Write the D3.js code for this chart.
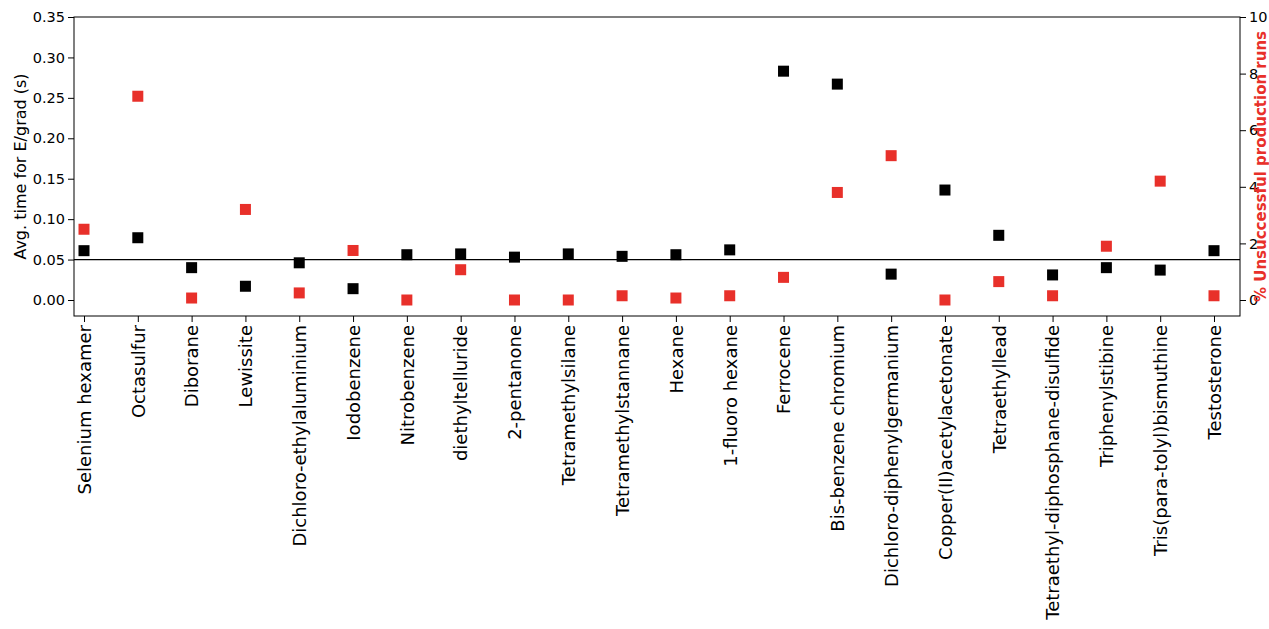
<!DOCTYPE html>
<html><head><meta charset="utf-8">
<script src="https://cdn.jsdelivr.net/npm/d3@7"></script>
<style>
body{margin:0;background:#fff}
svg{display:block}
svg text{font-family:"DejaVu Sans",sans-serif}
.tick text{font-size:14.5px;fill:#000}
</style></head><body>
<svg id="c" width="1269" height="629"></svg>
<script>
const molecules = ['Selenium hexamer','Octasulfur','Diborane','Lewissite','Dichloro-ethylaluminium','Iodobenzene','Nitrobenzene','diethyltelluride','2-pentanone','Tetramethylsilane','Tetramethylstannane','Hexane','1-fluoro hexane','Ferrocene','Bis-benzene chromium','Dichloro-diphenylgermanium','Copper(II)acetylacetonate','Tetraethyllead','Tetraethyl-diphosphane-disulfide','Triphenylstibine','Tris(para-tolyl)bismuthine','Testosterone']
const avgTime = [0.061,0.077,0.040,0.017,0.046,0.014,0.056,0.057,0.053,0.057,0.054,0.056,0.062,0.283,0.267,0.032,0.136,0.080,0.031,0.040,0.037,0.061]
const failPct = [2.5,7.2,0.07,3.2,0.25,1.75,0,1.07,0,0,0.15,0.07,0.15,0.8,3.8,5.1,0,0.65,0.15,1.9,4.2,0.15]
const leftTicks = [0,0.05,0.1,0.15,0.2,0.25,0.3,0.35]
const rightTicks = [0,2,4,6,8,10]
const threshold = 0.05

const m = {l:74, r:1240, t:17, b:316}
const svg = d3.select('#c')
const x = d3.scalePoint().domain(molecules).range([m.l+10, m.r-26])
const y = d3.scaleLinear().domain([0,0.35]).range([300, m.t])
const y2 = d3.scaleLinear().domain([0,10]).range([300, m.t])
const red = '#e8302a'

svg.append('g').attr('transform',`translate(${m.l},0)`)
  .call(d3.axisLeft(y).tickValues(leftTicks).tickFormat(d3.format('.2f')).tickSizeOuter(0))
svg.append('g').attr('transform',`translate(${m.r},0)`)
  .call(d3.axisRight(y2).tickValues(rightTicks).tickSizeOuter(0))
  .call(g => g.selectAll('text').attr('fill', red))
svg.append('g').attr('transform',`translate(0,${m.b})`)
  .call(d3.axisBottom(x).tickSizeOuter(0))
  .selectAll('text').style('font-size','18px')
  .attr('transform','rotate(-90)').attr('text-anchor','end')
  .attr('x',-9).attr('y',0).attr('dy','0.35em')
svg.selectAll('g').attr('font-family',null)
svg.append('rect').attr('x',m.l).attr('y',m.t).attr('width',m.r-m.l).attr('height',m.b-m.t)
  .attr('fill','none').attr('stroke','#000')
svg.selectAll('.domain').remove()

svg.append('line').attr('x1',m.l).attr('x2',m.r).attr('y1',y(threshold)).attr('y2',y(threshold))
  .attr('stroke','#000').attr('stroke-width',1.3)

const s = 11
svg.append('g').selectAll('rect').data(molecules).join('rect')
  .attr('x',d=>x(d)-s/2).attr('y',(d,i)=>y(avgTime[i])-s/2).attr('width',s).attr('height',s).attr('fill','#000')
svg.append('g').selectAll('rect').data(molecules).join('rect')
  .attr('x',d=>x(d)-s/2).attr('y',(d,i)=>y2(failPct[i])-s/2).attr('width',s).attr('height',s).attr('fill',red)

svg.append('text').attr('transform',`translate(26,${(m.t+m.b)/2}) rotate(-90)`)
  .attr('text-anchor','middle').style('font-size','16px').text('Avg. time for E/grad (s)')
svg.append('text').attr('transform',`translate(1266,${(m.t+m.b)/2}) rotate(-90)`)
  .attr('text-anchor','middle').style('font-size','15px').attr('font-weight','bold').attr('fill',red)
  .text('% Unsuccessful production runs')
</script></body></html>
